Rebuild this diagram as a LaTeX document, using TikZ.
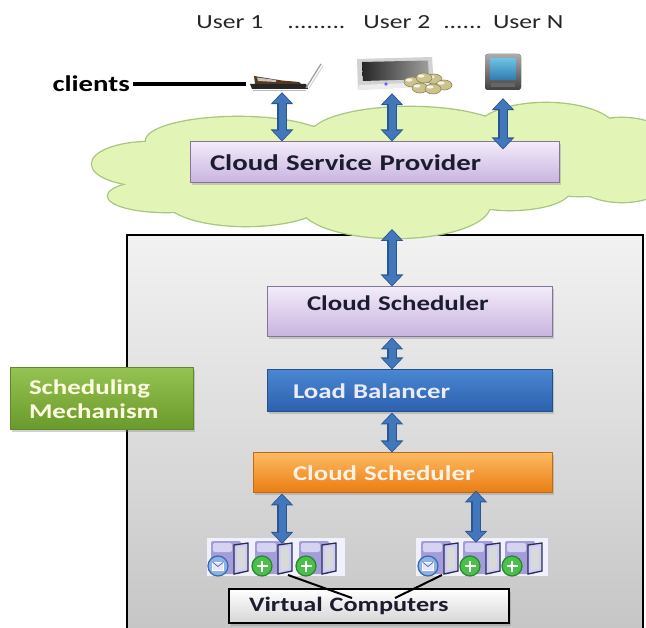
\documentclass[tikz,border=0pt]{standalone}
\usepackage{fontspec}
\setmainfont{Carlito}[FakeStretch=1.28]
\usetikzlibrary{arrows.meta,shadows,calc}

\definecolor{arrowblue}{HTML}{4277BC}
\definecolor{arrowedge}{HTML}{2A5690}
\definecolor{lavtop}{HTML}{F2EBF9}
\definecolor{lavbot}{HTML}{C8B3E0}
\definecolor{lavedge}{HTML}{857399}
\definecolor{lbtop}{HTML}{4A86D2}
\definecolor{lbbot}{HTML}{2C60AC}
\definecolor{lbedge}{HTML}{23508C}
\definecolor{ortop}{HTML}{FDBA62}
\definecolor{orbot}{HTML}{EA7C12}
\definecolor{oredge}{HTML}{C46812}
\definecolor{grtop}{HTML}{94C352}
\definecolor{grbot}{HTML}{6A992C}
\definecolor{gredge}{HTML}{5E8A2A}
\definecolor{paneltop}{HTML}{F2F2F2}
\definecolor{panelbot}{HTML}{C6C6C6}
\definecolor{cloudfill}{HTML}{E3F5B6}
\definecolor{cloudedge}{HTML}{A8C67C}
\definecolor{darktext}{HTML}{1C1C30}
\definecolor{vmback}{HTML}{A39DDA}
\definecolor{vmlight}{HTML}{D6D2F2}
\definecolor{vmedge}{HTML}{2E2E48}
\definecolor{mailfill}{HTML}{8DB2E6}
\definecolor{mailedge}{HTML}{3A68AE}
\definecolor{plusfill}{HTML}{4CBE4C}
\definecolor{plusedge}{HTML}{2A862A}
\definecolor{screentop}{HTML}{6CC0E2}
\definecolor{screenbot}{HTML}{2E7CB0}
\definecolor{coin}{HTML}{CBC28E}
\definecolor{coinedge}{HTML}{8A8452}

\tikzset{
  box/.style={draw, line width=1pt, inner ysep=2pt, align=left,
    drop shadow={shadow xshift=2pt, shadow yshift=-2.5pt, opacity=.35}},
  lavbox/.style={box, draw=lavedge, top color=lavtop, bottom color=lavbot,
    text=darktext, font=\bfseries\fontsize{21}{25}\selectfont},
  bluebox/.style={box, draw=lbedge, top color=lbtop, bottom color=lbbot,
    text=white!92!blue, font=\bfseries\fontsize{21}{25}\selectfont},
  orangebox/.style={box, draw=oredge, top color=ortop, bottom color=orbot,
    text=white!90!orange, font=\bfseries\fontsize{21}{25}\selectfont},
  greenbox/.style={box, draw=gredge, top color=grtop, bottom color=grbot,
    text=white!88!yellow, font=\bfseries\fontsize{21}{24}\selectfont},
  plainbox/.style={box, draw=black, line width=1.2pt, top color=white, bottom color=black!16,
    text=darktext, font=\bfseries\fontsize{20.5}{24}\selectfont},
  panel/.style={draw=black, line width=1.3pt, top color=paneltop, bottom color=panelbot,
    minimum width=516pt, minimum height=394pt, inner sep=0pt},
  device/.style={inner sep=0pt},
  vmgroup/.style={fill=white!94!blue, inner sep=0pt, minimum height=38pt},
  flowedge/.style={line width=10pt, draw=arrowedge,
    {Triangle[width=22pt,length=12pt]}-{Triangle[width=22pt,length=12pt]}},
  flowfill/.style={line width=7pt, draw=arrowblue, shorten >=1.3pt, shorten <=1.3pt,
    {Triangle[width=17.5pt,length=9.5pt]}-{Triangle[width=17.5pt,length=9.5pt]}},
  pointer/.style={draw=black, line width=2pt},
  clientbar/.style={draw=black, line width=3.6pt},
  vmserver/.pic={
    \fill[vmback, rounded corners=2pt] (3,1) rectangle (33,34);
    \fill[vmlight, rounded corners=2pt] (5,3) rectangle (24,12);
    \draw[vmedge, fill=white!80!blue, line width=1.3pt] (26,5) -- (40,3) -- (40,31) -- (26,34) -- cycle;
    \fill[white!70!gray] (29,7.5) -- (37,6.5) -- (37,28.5) -- (29,30.5) -- cycle;
  },
  vmmail/.pic={
    \pic {vmserver};
    \draw[mailedge, fill=mailfill, line width=1.2pt] (10,26) circle (10pt);
    \draw[white, fill=white!90!blue, line width=.7pt] (4.5,22) rectangle (15.5,30);
    \draw[mailedge, line width=.7pt] (4.5,22) -- (10,26.5) -- (15.5,22);
  },
  vmplus/.pic={
    \pic {vmserver};
    \draw[plusedge, fill=plusfill, line width=1.2pt] (10,26) circle (10pt);
    \draw[white, line width=2.4pt] (10,20.5) -- (10,31.5) (4.5,26) -- (15.5,26);
  },
}

\newcommand\dblarrow[2]{\draw[flowedge] #1 -- #2; \draw[flowfill] #1 -- #2;}

\begin{document}
\begin{tikzpicture}[x=1pt,y=-1pt]
\useasboundingbox (0,0) rectangle (646,628);
\fill[white] (0,0) rectangle (646,628);

% scheduling panel
\node[panel] (panel) at (385,432) {};

% cloud: outline pass, then fill pass hides the inner outlines
\foreach \cx/\cy/\rx/\ry in {150/164/58/22, 166/196/58/16, 238/141/92/24, 410/136/100/29,
    546/131/70/28, 622/160/62/42, 580/184/45/12, 510/190/60/20, 395/205/95/33,
    246/200/80/26, 380/165/220/40} {
  \draw[cloudedge, line width=2.6pt] (\cx,\cy) ellipse [x radius=\rx pt, y radius=\ry pt];
}
\foreach \cx/\cy/\rx/\ry in {150/164/58/22, 166/196/58/16, 238/141/92/24, 410/136/100/29,
    546/131/70/28, 622/160/62/42, 580/184/45/12, 510/190/60/20, 395/205/95/33,
    246/200/80/26, 380/165/220/40} {
  \fill[cloudfill] (\cx,\cy) ellipse [x radius=\rx pt, y radius=\ry pt];
}

% user labels
\node[font=\fontsize{20}{24}\selectfont, text=black!85] (users) at (380,22)
  {User 1\hspace{24pt}.........\hspace{18pt}User 2\hspace{13pt}......\hspace{11pt}User N};

% client devices
\node[device, minimum width=72pt, minimum height=30pt] (laptop) at (282,77) {};
\node[device, minimum width=92pt, minimum height=36pt] (desktop) at (392,75) {};
\node[device, minimum width=40pt, minimum height=44pt] (phone) at (503,76) {};

% laptop
\fill[black!85] (250,84) -- (306,84) -- (308,89) -- (252,89) -- cycle;
\draw[gray!55, line width=.8pt] (253,90.5) -- (306,90.5);
\fill[brown!45!black] (254,76) -- (263,77.5) -- (282,80.5) -- (299,82) -- (301,84) -- (255,84) -- cycle;
\fill[gray!45] (257,77.5) -- (276,80) -- (276,82) -- (258,81) -- cycle;
\draw[gray!75, line width=1.3pt] (306,88) -- (321,64);
\draw[gray!40, line width=.8pt] (309,88) -- (323,66);

% desktop with coins
\fill[gray!35] (357,59) -- (432,57) -- (434,86) -- (358,90) -- cycle;
\shade[left color=black!85, right color=gray!75] (362,62) -- (428,60.5) -- (429,79) -- (363,81) -- cycle;
\fill[gray!15] (359,85) -- (433,82) -- (434,86) -- (358,90) -- cycle;
\fill[blue!60] (386,84) circle (1.8pt);
\foreach \px/\py in {434/79, 444/85, 412/82, 424/78, 420/88, 433/89} {
  \draw[coinedge, fill=coin, line width=.6pt] (\px,\py) ellipse [x radius=8pt, y radius=5pt];
  \fill[white!80!coin] (\px-3,\py-2) ellipse [x radius=3.5pt, y radius=1.6pt];
}

% phone
\fill[rounded corners=3pt, top color=gray!65, bottom color=black!75] (485,54) rectangle (521,90);
\shade[top color=screentop, bottom color=screenbot] (490,59) rectangle (516,80);
\fill[black!60] (491,83) rectangle (515,87);

% clients label
\node[anchor=west, font=\bfseries\fontsize{22.5}{26}\selectfont] (clients) at (49,84) {clients};
\draw[clientbar] (clients.east) -- (laptop.west |- clients.east);

% cloud service provider
\node[lavbox, minimum width=369pt, minimum height=41pt, inner xsep=20pt, text width=329pt,
  font=\bfseries\fontsize{22.5}{26}\selectfont] (csp) at (374.5,162.5) {Cloud Service Provider};

\dblarrow{(laptop.south)}{(laptop.south |- csp.north)}
\dblarrow{(desktop.south)}{(desktop.south |- csp.north)}
\dblarrow{(phone.south)}{($(phone.south |- csp.north)+(0,8)$)}

% scheduling chain
\node[lavbox, minimum width=285pt, minimum height=50pt, inner xsep=40pt, text width=205pt,
  text depth=17pt] (cs1) at (409.5,312) {Cloud Scheduler};
\node[bluebox, minimum width=285pt, minimum height=42pt, inner xsep=26pt, text width=233pt]
  (lb) at (409.5,391) {Load Balancer};
\node[orangebox, minimum width=299pt, minimum height=40pt, inner xsep=40pt, text width=219pt]
  (cs2) at (402.5,473) {Cloud Scheduler};

\coordinate (cloudbase) at (392,229);
\coordinate (colL) at (282,0);
\coordinate (colR) at (476,0);

\dblarrow{(cloudbase)}{(cloudbase |- cs1.north)}
\dblarrow{(cloudbase |- cs1.south)}{(cloudbase |- lb.north)}
\dblarrow{(cloudbase |- lb.south)}{(cloudbase |- cs2.north)}

% virtual machines
\node[vmgroup, minimum width=138pt] (vmleft) at (276,557) {};
\node[vmgroup, minimum width=132pt] (vmright) at (482,557) {};
\pic at (208,540) {vmmail};
\pic at (252,540) {vmplus};
\pic at (296,540) {vmplus};
\pic at (418,540) {vmmail};
\pic at (460,540) {vmplus};
\pic at (502,540) {vmplus};

\dblarrow{(colL |- cs2.south)}{($(colL |- vmleft.north)+(0,6)$)}
\dblarrow{($(colR |- cs2.south)+(0,-3)$)}{($(colR |- vmright.north)+(0,5)$)}

\node[plainbox, minimum width=280pt, minimum height=34pt, inner xsep=20pt, text width=240pt]
  (vc) at (369,606) {Virtual Computers};
\coordinate (vmpickL) at (288,575);
\coordinate (vmpickR) at (442,575);
\coordinate (vcL) at (352,598);
\coordinate (vcR) at (395,598);
\draw[pointer] (vmpickL) -- (vcL);
\draw[pointer] (vmpickR) -- (vcR);

% side label
\node[greenbox, minimum width=183pt, minimum height=62pt, inner xsep=19pt, text width=145pt]
  (mech) at (101.5,399) {Scheduling\\Mechanism};
\end{tikzpicture}
\end{document}
